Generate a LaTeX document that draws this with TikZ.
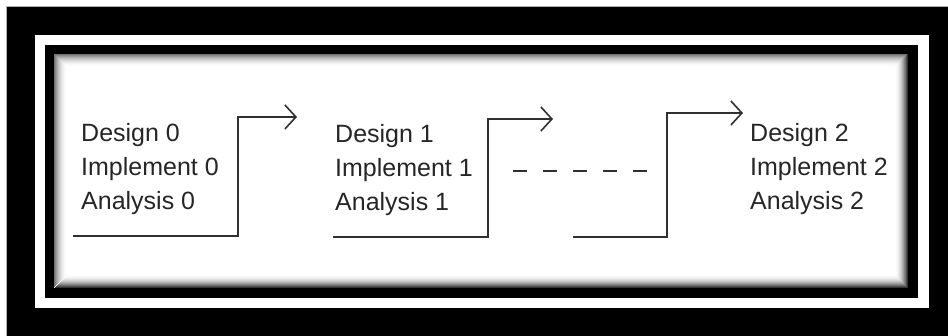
\documentclass[tikz,border=0pt]{standalone}
\usepackage{fontspec}
\setmainfont{Liberation Sans}
\usetikzlibrary{arrows.meta}

\definecolor{ink}{HTML}{262626}
\definecolor{wire}{HTML}{303030}

\tikzset{
  label text/.style={anchor=base west, inner sep=0pt, text=ink,
    font=\fontsize{25}{30}\selectfont},
  stair/.style={draw=wire, line width=2pt,
    -{Straight Barb[length=11pt,width=24pt,line width=1.6pt]}},
  gap dashes/.style={draw=wire, line width=2pt, dash pattern=on 14pt off 16pt}
}

\begin{document}
\begin{tikzpicture}[x=1pt, y=-1pt]
  \useasboundingbox (0,0) rectangle (948,336);

  % outer mat and double frame
  \fill[white] (0,0) rectangle (948,336);
  \fill[black] (6,6) rectangle (948,336);
  \draw[gray!60, line width=0.8pt] (6,336) -- (6,6) -- (948,6);
  \fill[white] (35,35) rectangle (929,308);
  \fill[black] (45,45) rectangle (918,298);
  \fill[white] (54,54) rectangle (908,288);

  % soft inset shadow: lighter along top and left, deeper along right and bottom
  \foreach \i in {0,...,12}{
    \pgfmathsetmacro\gl{55*(1-\i/13)^2}
    \pgfmathsetmacro\gd{80*(1-\i/13)^2}
    \pgfmathsetmacro\a{54+\i+0.5}
    \pgfmathsetmacro\r{908-\i-0.5}
    \pgfmathsetmacro\b{288-\i-0.5}
    \draw[line width=1.05pt, black!\gl] (\a,\b) -- (\a,\a) -- (\r,\a);
    \draw[line width=1.05pt, black!\gd] (\r,\a) -- (\r,\b) -- (\a,\b);
  }

  % stage 0
  \node[label text] (d0) at (81,142) {Design 0};
  \node[label text] (i0) at (81,176) {Implement 0};
  \node[label text] (a0) at (81,210) {Analysis 0};
  \coordinate (s0in)  at (73,236);
  \coordinate (s0up)  at (238,117);
  \coordinate (s0out) at (297,117);
  \draw[stair] (s0in) -| (s0up) -- (s0out);

  % stage 1
  \node[label text] (d1) at (335,143) {Design 1};
  \node[label text] (i1) at (335,177) {Implement 1};
  \node[label text] (a1) at (335,211) {Analysis 1};
  \coordinate (s1in)  at (333,237);
  \coordinate (s1up)  at (488,119);
  \coordinate (s1out) at (553,119);
  \draw[stair] (s1in) -| (s1up) -- (s1out);

  % stages left out
  \coordinate (gl) at (513,171);
  \coordinate (gr) at (651,171);
  \draw[gap dashes] (gl) -- (gr);

  % stage 2
  \coordinate (s2in)  at (573,237);
  \coordinate (s2up)  at (667,113);
  \coordinate (s2out) at (743,113);
  \draw[stair] (s2in) -| (s2up) -- (s2out);
  \node[label text] (d2) at (750,142) {Design 2};
  \node[label text] (i2) at (750,176) {Implement 2};
  \node[label text] (a2) at (750,210) {Analysis 2};
\end{tikzpicture}
\end{document}
